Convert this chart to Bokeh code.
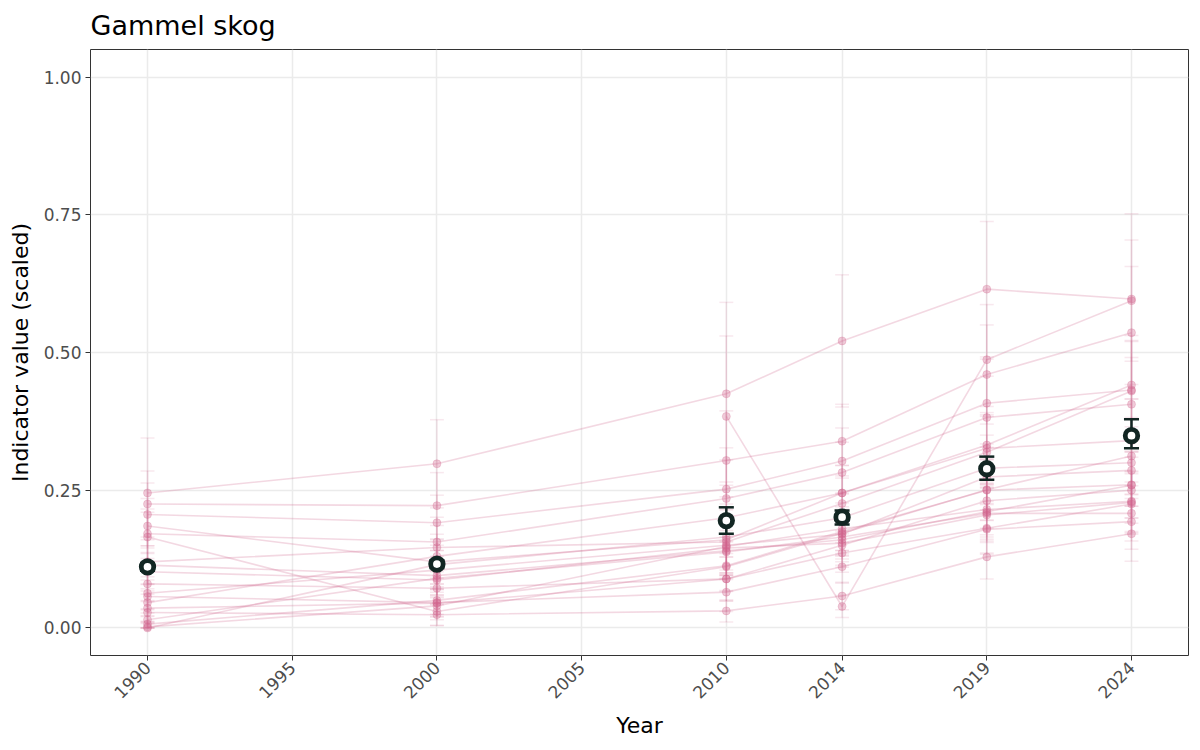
import math
from bokeh.plotting import figure
from bokeh.models import Range1d, FixedTicker, NumeralTickFormatter, ColumnDataSource
from bokeh.embed import file_html
from bokeh.resources import INLINE

NaN = float("nan")

years = [1990, 2000, 2010, 2014, 2019, 2024]
x_ticks = [1990, 1995, 2000, 2005, 2010, 2014, 2019, 2024]
y_ticks = [0.0, 0.25, 0.5, 0.75, 1.0]

# indicator values (scaled) per year, one entry per sub-indicator
v1990 = [0.245, 0.225, 0.206, 0.185, 0.171, 0.165, 0.120, 0.114, 0.102, 0.080, 0.063, 0.057, 0.046, 0.036, 0.028, 0.015, 0.007, 0.000, 0.002, NaN]
v2000 = [0.298, 0.222, 0.191, 0.120, 0.156, 0.030, 0.146, 0.095, 0.087, 0.072, 0.105, 0.046, 0.130, 0.045, 0.024, 0.090, 0.050, 0.115, 0.040, NaN]
v2010 = [0.425, 0.304, 0.252, 0.160, 0.235, 0.111, 0.156, 0.140, 0.145, 0.089, 0.150, 0.065, 0.200, 0.089, 0.031, 0.138, 0.113, 0.165, 0.148, 0.384]
v2014 = [0.521, 0.339, 0.303, 0.245, 0.282, 0.172, 0.226, 0.160, 0.154, 0.136, 0.170, 0.111, 0.245, 0.150, 0.058, 0.165, 0.175, 0.200, 0.180, 0.039]
v2019 = [0.615, 0.460, 0.408, 0.332, 0.382, 0.251, 0.319, 0.211, 0.205, 0.181, 0.274, 0.179, 0.326, 0.231, 0.129, 0.208, 0.250, 0.290, 0.215, 0.487]
v2024 = [0.597, 0.536, 0.432, 0.441, 0.406, 0.312, 0.430, 0.259, 0.228, 0.225, 0.286, 0.193, 0.340, 0.250, 0.171, 0.208, 0.260, 0.300, 0.230, 0.594]

# half-widths of the uncertainty bars
e1990 = [0.100, 0.060, 0.057, 0.050, 0.045, 0.045, 0.040, 0.035, 0.035, 0.030, 0.030, 0.030, 0.025, 0.025, 0.020, 0.020, 0.015, 0.010, 0.010, NaN]
e2000 = [0.080, 0.060, 0.050, 0.040, 0.045, 0.025, 0.040, 0.035, 0.030, 0.030, 0.035, 0.025, 0.040, 0.025, 0.020, 0.030, 0.025, 0.035, 0.025, NaN]
e2010 = [0.166, 0.090, 0.075, 0.060, 0.070, 0.045, 0.060, 0.050, 0.050, 0.040, 0.055, 0.035, 0.065, 0.040, 0.020, 0.050, 0.045, 0.060, 0.050, 0.146]
e2014 = [0.120, 0.067, 0.060, 0.050, 0.055, 0.040, 0.050, 0.040, 0.040, 0.035, 0.040, 0.030, 0.050, 0.040, 0.025, 0.040, 0.040, 0.045, 0.040, 0.020]
e2019 = [0.123, 0.090, 0.080, 0.070, 0.075, 0.055, 0.065, 0.050, 0.050, 0.045, 0.060, 0.045, 0.065, 0.050, 0.040, 0.050, 0.055, 0.060, 0.050, 0.100]
e2024 = [0.155, 0.120, 0.090, 0.090, 0.085, 0.070, 0.090, 0.060, 0.055, 0.055, 0.065, 0.050, 0.075, 0.060, 0.050, 0.050, 0.060, 0.065, 0.055, 0.110]

# aggregated indicator
mean_val = [0.111, 0.116, 0.195, 0.201, 0.289, 0.349]
mean_low = [0.104, 0.109, 0.171, 0.188, 0.269, 0.326]
mean_high = [0.118, 0.123, 0.219, 0.213, 0.311, 0.379]

vals = [v1990, v2000, v2010, v2014, v2019, v2024]
errs = [e1990, e2000, e2010, e2014, e2019, e2024]

PINK = "#d1628c"
DARK = "#122623"
FONT = "DejaVu Sans"

p = figure(width=1192, height=742, output_backend="svg", toolbar_location=None,
           x_range=Range1d(1988.03, 2025.97), y_range=Range1d(-0.05, 1.05),
           min_border_left=90, min_border_right=4, min_border_top=49, min_border_bottom=87,
           title="Gammel skog")

# lines per series
n = len(v1990)
xs, ys = [], []
for i in range(n):
    sx, sy = [], []
    for yr, col in zip(years, vals):
        if not math.isnan(col[i]):
            sx.append(yr)
            sy.append(col[i])
    xs.append(sx)
    ys.append(sy)
p.multi_line(xs, ys, line_color=PINK, line_alpha=0.25, line_width=1.6)

# points and error bars
px, py, lo, hi = [], [], [], []
for yr, col, ecol in zip(years, vals, errs):
    for v, e in zip(col, ecol):
        if math.isnan(v):
            continue
        px.append(yr)
        py.append(v)
        lo.append(max(v - e, 0.0))
        hi.append(v + e)
src = ColumnDataSource(dict(x=px, y=py, lo=lo, hi=hi,
                            xl=[x - 0.24 for x in px], xr=[x + 0.24 for x in px]))
p.segment(x0="x", y0="lo", x1="x", y1="hi", source=src, line_color=PINK, line_alpha=0.15, line_width=1.5)
p.segment(x0="xl", y0="lo", x1="xr", y1="lo", source=src, line_color=PINK, line_alpha=0.15, line_width=1.5)
p.segment(x0="xl", y0="hi", x1="xr", y1="hi", source=src, line_color=PINK, line_alpha=0.15, line_width=1.5)
p.scatter(x="x", y="y", source=src, size=8, fill_color=PINK, fill_alpha=0.33, line_color=PINK, line_alpha=0.25)

# mean with error bars
msrc = ColumnDataSource(dict(x=years, y=mean_val, lo=mean_low, hi=mean_high,
                             xl=[x - 0.26 for x in years], xr=[x + 0.26 for x in years]))
p.segment(x0="x", y0="lo", x1="x", y1="hi", source=msrc, line_color=DARK, line_width=2.5)
p.segment(x0="xl", y0="lo", x1="xr", y1="lo", source=msrc, line_color=DARK, line_width=2.5)
p.segment(x0="xl", y0="hi", x1="xr", y1="hi", source=msrc, line_color=DARK, line_width=2.5)
p.scatter(x="x", y="y", source=msrc, size=12.5, fill_color="white", line_color=DARK, line_width=4.8)

# styling (theme_bw-like)
p.title.text_font = FONT
p.title.text_font_size = "27px"
p.title.text_font_style = "normal"
p.title.text_color = "black"
p.title.align = "left"
p.title.standoff = 14
p.title.vertical_align = "top"

p.xaxis.ticker = FixedTicker(ticks=x_ticks)
p.yaxis.ticker = FixedTicker(ticks=y_ticks)
p.yaxis.formatter = NumeralTickFormatter(format="0.00")
p.xaxis.major_label_orientation = math.pi / 4
p.xaxis.axis_label = "Year"
p.yaxis.axis_label = "Indicator value (scaled)"
for ax in (p.xaxis, p.yaxis):
    ax.axis_label_text_font = FONT
    ax.axis_label_text_font_size = "22px"
    ax.axis_label_text_font_style = "normal"
    ax.axis_label_text_color = "black"
    ax.major_label_text_font = FONT
    ax.major_label_text_font_size = "17px"
    ax.major_label_text_color = "#4d4d4d"
    ax.axis_line_color = None
    ax.major_tick_line_color = "#333333"
    ax.major_tick_out = 5
    ax.major_tick_in = 0
    ax.minor_tick_line_color = None
    ax.major_label_standoff = 4
p.xaxis.axis_label_standoff = 6
p.yaxis.axis_label_standoff = 8

p.xgrid.grid_line_color = "#ebebeb"
p.ygrid.grid_line_color = "#ebebeb"
p.xgrid.grid_line_width = 1.5
p.ygrid.grid_line_width = 1.5
p.outline_line_color = "#333333"
p.outline_line_width = 1
p.background_fill_color = "white"
p.border_fill_color = "white"

open("out.html", "w").write(file_html(p, INLINE))
